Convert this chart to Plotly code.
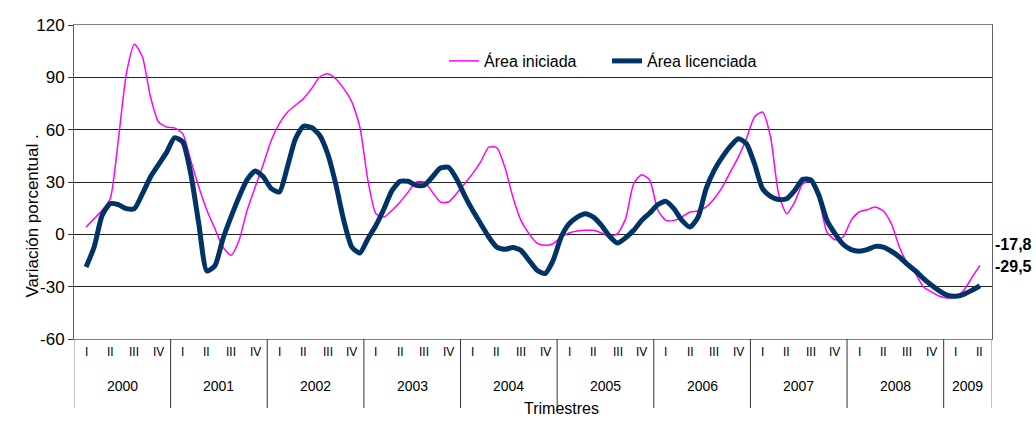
import plotly.graph_objects as go
import numpy as np

# Monthly readings (quarter I 2000 centre = month 0 ... quarter II 2009 centre = month 111)
area_iniciada = [
    4.2, 9, 13.8, 20.4, 53.9, 92, 109, 101.7, 78.7, 64.4, 61.5, 61,
    57.7, 42.4, 27.1, 13.8, 3.2, -7.3, -12, -3.4, 13.8, 27.1, 40, 53.9,
    63.4, 70, 74, 77.8, 83.5, 90.2, 92.1, 89.2, 83.5, 75.9, 61.5, 31,
    11.8, 9.9, 13.8, 18.5, 24.3, 30, 30, 24.3, 18.5, 18.5, 23.3, 29,
    34.8, 41.5, 50, 49.7, 38.6, 21.4, 8, 0.4, -5, -6.3, -5.4, -1.5,
    0.8, 1.9, 2.3, 2.3, 0.8, -1.1, 0.4, 9, 29, 34.2, 31, 13.8,
    8, 8, 9.9, 12.8, 13.4, 15.7, 20.4, 27.1, 35.7, 44.3, 54.8, 67.3,
    70.1, 55.8, 23.3, 11.8, 18.5, 29, 30.5, 20.4, 1.3, -3.1, -1.5, 8,
    12.8, 14.1, 15.7, 13.4, 6.1, -7.3, -16.8, -22.5, -30.2, -33, -35.5, -36.5,
    -35.9, -32.1, -24.8, -17.8,
]
area_licenciada = [
    -18.7, -7.3, 11, 17.6, 17, 14.7, 14.7, 23.3, 32.9, 40, 47, 55.4,
    53, 34.8, 6, -21, -18, -2.5, 10, 21.4, 31.3, 36.3, 33, 26.2,
    24.3, 38.6, 54.8, 62, 61.2, 56.8, 46.2, 29, 8, -7.3, -10.7, -2.5,
    5.2, 14.7, 25.2, 30.4, 30.4, 28.1, 28.1, 32.9, 38, 38.4, 31.9, 22.4,
    13.8, 6.1, -1.5, -7.3, -8.6, -7.6, -9.2, -14.9, -20.6, -22.5, -14.9, -1.5,
    6.1, 9.9, 11.8, 9.9, 5.2, -1.1, -5, -2, 2.3, 8, 12.2, 17,
    18.9, 14.7, 8, 4.2, 9.9, 26.2, 36.7, 44.3, 50.4, 54.8, 52, 40.5,
    26.2, 21.8, 20, 20.4, 25.2, 31.5, 31.2, 22.4, 8, 0.4, -5.7, -8.8,
    -9.7, -8.8, -6.9, -7.3, -9.7, -13, -17.2, -21, -25.4, -29.2, -32.5, -35,
    -35.5, -34.4, -32.1, -29.5,
]
years = ["2000", "2001", "2002", "2003", "2004", "2005", "2006", "2007", "2008", "2009"]
quarter_names = ["I", "II", "III", "IV"]
n_quarters = 38
y_ticks = [-60, -30, 0, 30, 60, 90, 120]
y_ticktext = [str(v) for v in y_ticks]

months = np.arange(len(area_iniciada))
x = months / 3.0

PINK = "#FF00FF"
NAVY = "#003366"

fig = go.Figure()
fig.add_trace(go.Scatter(x=x, y=area_iniciada, mode="lines", name="Área iniciada",
                         line=dict(color=PINK, width=1.5, shape="spline", smoothing=0.6)))
fig.add_trace(go.Scatter(x=x, y=area_licenciada, mode="lines", name="Área licenciada",
                         line=dict(color=NAVY, width=5, shape="spline", smoothing=0.6)))

L, R, T, B = 74, 44, 25, 87
W, H = 1036, 426
ph = H - T - B
pw = W - L - R

def py(px_from_top):
    return (H - B - px_from_top) / ph

def px(px_from_left):
    return (px_from_left - L) / pw

annotations = []
shapes = []
# quarter labels
for i in range(n_quarters):
    annotations.append(dict(x=i, y=py(361), xref="x", yref="paper", text=quarter_names[i % 4],
                            showarrow=False, font=dict(size=12, color="#000")))
# year labels and separators
for k, yr in enumerate(years):
    first = 4 * k
    last = min(4 * k + 3, n_quarters - 1)
    annotations.append(dict(x=(first + last) / 2, y=py(396), xref="x", yref="paper", text=yr,
                            showarrow=False, font=dict(size=14, color="#000")))
for k in range(len(years) + 1):
    xs = min(4 * k, n_quarters) - 0.5
    shapes.append(dict(type="line", xref="x", yref="paper", x0=xs, x1=xs, y0=0, y1=py(408),
                       line=dict(color="#333" if 0 < k < len(years) else "#808080", width=1)))
# white background behind legend (covers gridline)
shapes.append(dict(type="rect", xref="paper", yref="paper",
                   x0=px(438), x1=px(782), y0=py(82), y1=py(40),
                   fillcolor="white", line=dict(width=0), layer="between"))

annotations.append(dict(x=px(561), y=py(419), xref="paper", yref="paper",
                        text="Trimestres", showarrow=False, font=dict(size=16, color="#000")))
annotations.append(dict(x=px(20), y=py(216), xref="paper", yref="paper",
                        text="Variación porcentual .", textangle=-90, showarrow=False,
                        font=dict(size=17, color="#000")))
# end-value labels
annotations.append(dict(x=px(993), y=py(255), xref="paper", yref="paper", xanchor="left",
                        text="<b>%s</b>" % f"{area_iniciada[-1]:.1f}".replace(".", ","),
                        showarrow=False, font=dict(size=16, color="#000")))
annotations.append(dict(x=px(993), y=py(277), xref="paper", yref="paper", xanchor="left",
                        text="<b>%s</b>" % f"{area_licenciada[-1]:.1f}".replace(".", ","),
                        showarrow=False, font=dict(size=16, color="#000")))

fig.update_layout(
    width=W, height=H,
    margin=dict(l=L, r=R, t=T, b=B, autoexpand=False),
    paper_bgcolor="white", plot_bgcolor="white",
    font=dict(family="Liberation Sans, Arial, sans-serif", color="#000"),
    showlegend=True,
    legend=dict(orientation="h", x=px(444), y=py(44), xanchor="left", yanchor="top",
                bgcolor="rgba(0,0,0,0)", font=dict(size=16, color="#000"),
                entrywidth=118, entrywidthmode="pixels", tracegroupgap=0),
    annotations=annotations,
    shapes=shapes,
)
fig.update_xaxes(range=[-0.5, n_quarters - 0.5], showgrid=False, showticklabels=False, ticks="",
                 zeroline=False, showline=True, linecolor="#808080", linewidth=1, mirror=True,
                 automargin=False)
fig.update_yaxes(range=[-60, 120], tickvals=y_ticks, ticktext=y_ticktext, showgrid=True,
                 gridcolor="#222", gridwidth=1, automargin=False,
                 zeroline=False, showline=True, linecolor="#606060", linewidth=1, mirror=True,
                 ticks="outside", ticklen=5, tickcolor="#333", tickfont=dict(size=17, color="#000"))

fig.write_html("out.html", config={"displayModeBar": False},
               post_script="document.body.style.margin='0';document.body.style.overflow='hidden';")
